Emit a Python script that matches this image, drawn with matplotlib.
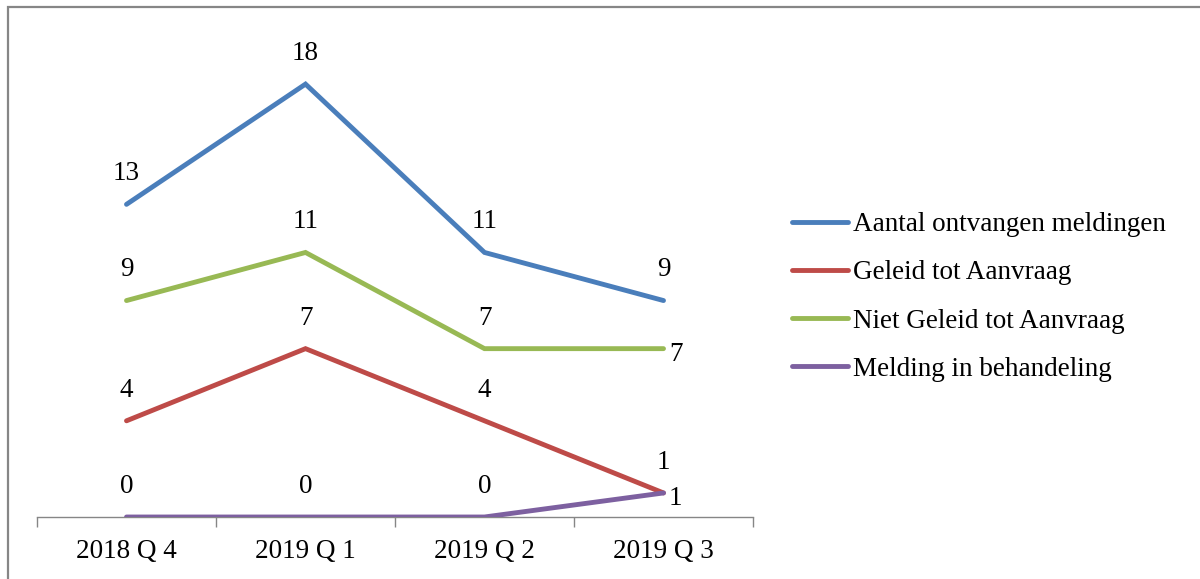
import matplotlib
matplotlib.use("Agg")
import matplotlib.pyplot as plt
from matplotlib.patches import Rectangle

plt.rcParams['font.family'] = ['Liberation Serif', 'DejaVu Serif']

quarters = ['2018 Q 4', '2019 Q 1', '2019 Q 2', '2019 Q 3']
series_names = ['Aantal ontvangen meldingen', 'Geleid tot Aanvraag',
                'Niet Geleid tot Aanvraag', 'Melding in behandeling']
aantal = [13, 18, 11, 9]
geleid = [4, 7, 4, 1]
niet_geleid = [9, 11, 7, 7]
in_behandeling = [0, 0, 0, 1]

colors = ['#4A7EBB', '#BE4B48', '#98B954', '#7D60A0']
# where the data label sits for the last point ('above' or 'right')
last_label = ['above', 'above', 'right', 'right']
FS = 19.5

fig = plt.figure(figsize=(12, 5.79), dpi=100)
ax = fig.add_axes([37 / 1200, 62 / 579, 716 / 1200, 481 / 579])

x = range(len(quarters))
values = [aantal, geleid, niet_geleid, in_behandeling]
for i, (name, vals) in enumerate(zip(series_names, values)):
    ax.plot(x, vals, color=colors[i], lw=3.5, label=name,
            solid_capstyle='round', solid_joinstyle='miter', zorder=3 + i)
    for j, v in enumerate(vals):
        if j == len(vals) - 1 and last_label[i] == 'right':
            ax.annotate(str(v), (j, v), xytext=(4, -4), textcoords='offset points',
                        ha='left', va='center', fontsize=FS)
        else:
            ax.annotate(str(v), (j, v), xytext=(0, 22), textcoords='offset points',
                        ha='center', va='center', fontsize=FS)

ax.set_xlim(-0.5, 3.5)
ax.set_ylim(0, 20)
ax.set_yticks([])
for s in ['top', 'right', 'left']:
    ax.spines[s].set_visible(False)
ax.spines['bottom'].set_color('#868686')
ax.spines['bottom'].set_linewidth(1.0)

ax.set_xticks([-0.5, 0.5, 1.5, 2.5, 3.5])
ax.set_xticklabels([])
ax.set_xticks(list(x), minor=True)
ax.set_xticklabels(quarters, minor=True, fontsize=FS)
ax.tick_params(axis='x', which='major', length=7, color='#868686', width=1.0)
ax.tick_params(axis='x', which='minor', length=0, pad=16)

fig.legend(loc='center left', bbox_to_anchor=(792 / 1200, 1 - 297 / 579),
           frameon=False, fontsize=FS, handlelength=2.05, handletextpad=0.2,
           labelspacing=0.85, borderaxespad=0, borderpad=0)

fig.patches.append(Rectangle((8 / 1200, -0.05), 1.1, 1.05 - 7 / 579,
                             transform=fig.transFigure, fill=False,
                             edgecolor='#868686', lw=1.6))

fig.savefig('out.png', dpi=100)
